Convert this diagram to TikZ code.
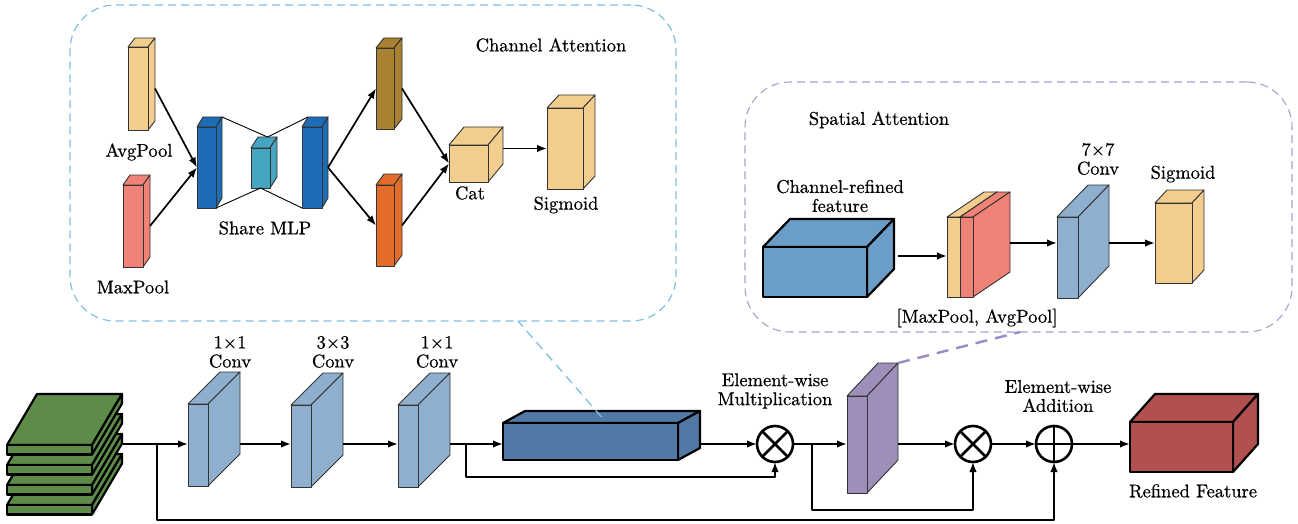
\documentclass[tikz,border=0pt]{standalone}
\usepackage{fontspec}
\usetikzlibrary{arrows.meta,calc}
\newfontfamily\lblfont{lmroman10-regular.otf}[FakeBold=0.6]
\definecolor{convblue}{RGB}{143,175,207}
\definecolor{purp}{RGB}{157,143,186}
\definecolor{steel}{RGB}{80,121,166}
\definecolor{rfred}{RGB}{177,80,78}
\definecolor{grn}{RGB}{93,140,72}
\definecolor{crblue}{RGB}{106,157,200}
\definecolor{mlpblue}{RGB}{30,107,182}
\definecolor{cyanb}{RGB}{70,165,192}
\definecolor{beige}{RGB}{242,205,142}
\definecolor{salmon}{RGB}{240,130,120}
\definecolor{brownb}{RGB}{168,130,48}
\definecolor{orangeb}{RGB}{228,108,42}
\definecolor{dashblue}{RGB}{130,190,226}
\definecolor{dashpurp}{RGB}{172,158,202}
\definecolor{linkpurp}{RGB}{155,138,200}
\newcommand\cub[8]{%
  \filldraw[#8] (#2,#3) -- ({#2+#6},{#3-#7}) -- ({#2+#4+#6},{#3-#7}) -- ({#2+#4},#3) -- cycle;
  \filldraw[#8] ({#2+#4},#3) -- ({#2+#4+#6},{#3-#7}) -- ({#2+#4+#6},{#3+#5-#7}) -- ({#2+#4},{#3+#5}) -- cycle;
  \filldraw[#8] (#2,#3) rectangle ({#2+#4},{#3+#5});
  \coordinate (#1-w) at (#2,{#3+#5/2});
  \coordinate (#1-e) at ({#2+#4+#6},{#3+#5/2});
  \coordinate (#1-t) at ({#2+#4/2+#6/2},{#3-#7/2});
  \coordinate (#1-tb) at ({#2+#4/2+#6},{#3-#7});
  \coordinate (#1-tr) at ({#2+#4+#6},{#3-#7});
  \coordinate (#1-tl) at ({#2+#6},{#3-#7});
  \coordinate (#1-b) at ({#2+#4/2},{#3+#5});
  \coordinate (#1-bl) at (#2,{#3+#5});
  \coordinate (#1-br) at ({#2+#4},{#3+#5});
}
\begin{document}
\begin{tikzpicture}[x=1pt,y=-1pt,line join=round,
  lbl/.style={font=\lblfont\fontsize{18.5}{19}\selectfont, inner sep=0pt, align=center},
  thinbox/.style={draw=black!80, line width=0.9pt},
  thickbox/.style={draw=black, line width=2.2pt},
  ln/.style={line width=1.7pt},
  arr/.style={line width=1.7pt, -{Latex[length=10pt,width=7.5pt]}},
  opcirc/.style={circle, draw, line width=2.6pt, minimum size=36pt, inner sep=0pt, outer sep=0pt, fill=white},
  opline/.style={line width=2.6pt}]
\useasboundingbox (0,0) rectangle (1298,524);

% ---------- dashed frames ----------
\node[draw=dashblue, line width=1.2pt, dash pattern=on 8pt off 5pt, rounded corners=45pt,
      minimum width=606pt, minimum height=316pt, inner sep=0pt] (ca) at (373,163) {};
\node[draw=dashpurp, line width=1.1pt, dash pattern=on 8pt off 5pt, rounded corners=45pt,
      minimum width=547pt, minimum height=250pt, inner sep=0pt] (sa) at (1018.5,207) {};
\coordinate (ca-link) at (518,321);
\coordinate (sa-link) at (1020,332);

% ---------- Channel attention ----------
\cub{avg}{128}{47}{20}{83}{7}{9}{fill=beige,thinbox}
\cub{max}{123}{185}{20}{82}{7}{10}{fill=salmon,thinbox}
\cub{mlpa}{197}{127}{19}{81}{6}{10}{fill=mlpblue,thinbox}
\cub{mid}{251}{148}{19}{40}{7}{11}{fill=cyanb,thinbox}
\cub{mlpb}{302}{127}{20}{81}{6}{10}{fill=mlpblue,thinbox}
\cub{brn}{376}{48}{18}{81}{8}{10}{fill=brownb,thinbox}
\cub{org}{376}{185}{18}{81}{8}{11}{fill=orangeb,thinbox}
\cub{cat}{449}{145}{39}{37}{15}{18}{fill=beige,thinbox}
\cub{sig}{547}{108}{36}{81}{12}{13}{fill=beige,thinbox}

\draw[line width=0.9pt] (mlpa-tr) -- (mid-tb) -- (mlpb-tl);
\draw[line width=0.9pt] (mlpa-br) -- (mid-b) -- (mlpb-bl);

\draw[arr] (avg-e) -- (mlpa-w);
\draw[arr] (max-e) -- (mlpa-w);
\draw[arr] (mlpb-e) -- (brn-w);
\draw[arr] (mlpb-e) -- (org-w);
\draw[arr] (brn-e) -- (cat-w);
\draw[arr] (org-e) -- (cat-w);
\draw[arr] (sig-w -| cat-e) -- (sig-w);

\node[lbl] (tca) at (551,45) {Channel Attention};
\node[lbl] (tavg) at (139,152) {AvgPool};
\node[lbl] (tmax) at (133,287) {MaxPool};
\node[lbl] (tmlp) at (265,228) {Share MLP};
\node[lbl] (tcat) at (470,193) {Cat};
\node[lbl] (tsig) at (566,205) {Sigmoid};

% ---------- Spatial attention ----------
\cub{crf}{763}{247}{104}{50}{27}{28}{fill=crblue,thickbox}
\cub{pa}{947}{217}{13}{80}{37}{25}{fill=beige,thinbox}
\cub{pm}{960}{217}{13}{80}{37}{25}{fill=salmon,thinbox}
\cub{cs}{1057}{217}{21}{81}{31}{32}{fill=convblue,thinbox}
\cub{sg}{1155}{203}{37}{80}{12}{13}{fill=beige,thinbox}
\coordinate (srow) at (0,256);
\draw[arr] (srow -| crf-e) ++(4,0) -- (srow -| pa-w);
\draw[arr] (sg-w -| pm-e) -- (sg-w -| cs-w);
\draw[arr] (sg-w -| cs-e) -- (sg-w);

\node[lbl] (tsa) at (879,120) {Spatial Attention};
\node[lbl] (tcrf) at (840,196) {Channel-refined\\feature};
\node[lbl] (tpool) at (977,318) {[MaxPool, AvgPool]};
\node[lbl] (tcs) at (1098,159) {7×7\\Conv};
\node[lbl] (tsg) at (1183,174) {Sigmoid};

% ---------- Main row ----------
\cub{g4}{7}{505}{85}{9.5}{30}{51}{fill=grn,thickbox}
\cub{g3}{7}{485}{85}{9.5}{30}{51}{fill=grn,thickbox}
\cub{g2}{7}{465}{85}{9.5}{30}{51}{fill=grn,thickbox}
\cub{g1}{7}{445}{85}{9.5}{30}{51}{fill=grn,thickbox}
\cub{ca}{188}{404}{20}{82}{32}{32}{fill=convblue,thinbox}
\cub{cb}{291}{405}{20}{82}{32}{32}{fill=convblue,thinbox}
\cub{cc}{398}{405}{20}{82}{32}{32}{fill=convblue,thinbox}
\cub{lb}{503}{423}{175}{37}{22}{12}{fill=steel,thickbox}
\cub{pu}{847}{396}{20}{97}{31}{33}{fill=purp,thinbox}
\cub{rf}{1130}{422}{103}{50}{25}{28}{fill=rfred,thickbox}

\node[opcirc] (m1) at (775,444) {};
\draw[opline] (m1.45) -- (m1.225) (m1.135) -- (m1.315);
\node[opcirc] (m2) at (973,444) {};
\draw[opline] (m2.45) -- (m2.225) (m2.135) -- (m2.315);
\node[opcirc] (ad) at (1054,444) {};
\draw[opline] (ad.north) -- (ad.south) (ad.east) -- (ad.west);

\coordinate (row) at (0,444);
\coordinate (br1) at (157,444);
\coordinate (br2) at (466,444);
\coordinate (br3) at (812,444);
\coordinate (low1) at (0,477);
\coordinate (low2) at (0,510);
\coordinate (low3) at (0,520);

\draw[ln] (row -| g1-e) -- (br1);
\draw[arr] (br1) -- (row -| ca-w);
\draw[arr] (row -| ca-e) -- (row -| cb-w);
\draw[arr] (row -| cb-e) -- (row -| cc-w);
\draw[ln] (row -| cc-e) -- (br2);
\draw[arr] (br2) -- (row -| lb-w);
\draw[arr] (row -| lb-e) -- (m1.west);
\draw[arr] (br2) -- (br2 |- low1) -| (m1.south);
\draw[ln] (m1.east) -- (br3);
\draw[arr] (br3) -- (row -| pu-w);
\draw[arr] (row -| pu-e) -- (m2.west);
\draw[arr] (br3) -- (br3 |- low2) -| (m2.south);
\draw[arr] (m2.east) -- (ad.west);
\draw[arr] (br1) -- (br1 |- low3) -| (ad.south);
\draw[arr] (ad.east) -- (row -| rf-w);

% links to frames
\draw[dashblue, line width=1.3pt, dash pattern=on 9pt off 6pt] (lb-t) -- (ca-link);
\draw[linkpurp, line width=2.4pt, dash pattern=on 12pt off 8pt] (pu-tr) -- (sa-link);

\node[lbl] (t1) at (230,352) {1×1\\Conv};
\node[lbl] (t2) at (333,352) {3×3\\Conv};
\node[lbl] (t3) at (437,352) {1×1\\Conv};
\node[lbl] (tm) at (775,391) {Element-wise\\Multiplication};
\node[lbl] (ta) at (1058,396) {Element-wise\\Addition};
\node[lbl] (trf) at (1193,491) {Refined Feature};
\end{tikzpicture}
\end{document}
